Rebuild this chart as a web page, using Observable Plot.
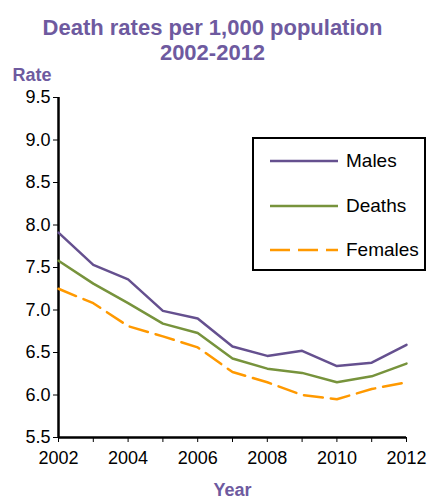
<!DOCTYPE html>
<html>
<head>
<meta charset="utf-8">
<script src="https://cdn.jsdelivr.net/npm/d3@7"></script>
<script src="https://cdn.jsdelivr.net/npm/@observablehq/plot@0.6"></script>
<style>
  body { margin: 0; background: #fff; font-family: "Liberation Sans", Arial, sans-serif; }
  #wrap { position: relative; width: 430px; height: 500px; }
  #legend { position: absolute; left: 252px; top: 137px; width: 170px; height: 130px; border: 2px solid #000; background: #fff; }
  .row { position: absolute; left: 0; height: 22px; display: flex; align-items: center; font-size: 19px; color: #000; }
  .row svg { margin-left: 16px; margin-right: 8px; }
</style>
</head>
<body>
<div id="wrap"></div>
<script>
const years = [2002, 2003, 2004, 2005, 2006, 2007, 2008, 2009, 2010, 2011, 2012];
const males = [7.91, 7.53, 7.36, 6.99, 6.90, 6.57, 6.46, 6.52, 6.34, 6.38, 6.59];
const deaths = [7.58, 7.31, 7.08, 6.84, 6.73, 6.43, 6.31, 6.26, 6.15, 6.22, 6.37];
const females = [7.25, 7.08, 6.81, 6.69, 6.56, 6.27, 6.15, 6.00, 5.95, 6.07, 6.15];
const yTicks = [5.5, 6.0, 6.5, 7.0, 7.5, 8.0, 8.5, 9.0, 9.5];
const xLabelTicks = [2002, 2004, 2006, 2008, 2010, 2012];
const seriesNames = ["Males", "Deaths", "Females"];
const seriesColors = ["#65508F", "#77933C", "#FF9900"];
const titleLines = ["Death rates per 1,000 population", "2002-2012"];
const purple = "#6E5A9F";

const rows = (vals, name) => years.map((y, i) => ({year: y, value: vals[i], series: name}));
const data = [...rows(males, "Males"), ...rows(deaths, "Deaths"), ...rows(females, "Females")];

const chart = Plot.plot({
  width: 430,
  height: 500,
  marginLeft: 58,
  marginRight: 24,
  marginTop: 97,
  marginBottom: 63,
  style: {fontFamily: "'Liberation Sans', Arial, sans-serif", fontSize: "18px", background: "#fff", color: "#000", overflow: "visible"},
  x: {domain: [2002, 2012]},
  y: {domain: [5.5, 9.5]},
  marks: [
    Plot.axisY({ticks: yTicks, tickFormat: d3.format(".1f"), tickSize: 5, tickPadding: 3, label: null, fontSize: 18}),
    Plot.axisX({ticks: years, tickFormat: () => "", tickSize: 5, label: null}),
    Plot.axisX({ticks: xLabelTicks, tickFormat: d => String(d), tickSize: 0, tickPadding: 14, label: null, fontSize: 18}),
    Plot.ruleX([2002], {stroke: "#000", strokeWidth: 2.5}),
    Plot.ruleY([5.5], {stroke: "#000", strokeWidth: 2.5}),
    Plot.line(data.filter(d => d.series === "Males"), {x: "year", y: "value", stroke: seriesColors[0], strokeWidth: 2.5}),
    Plot.line(data.filter(d => d.series === "Deaths"), {x: "year", y: "value", stroke: seriesColors[1], strokeWidth: 2.5}),
    Plot.line(data.filter(d => d.series === "Females"), {x: "year", y: "value", stroke: seriesColors[2], strokeWidth: 2.5, strokeDasharray: "19,8"}),
    Plot.text([titleLines[0]], {frameAnchor: "top", lineAnchor: "middle", text: d => d, dx: -20, dy: -70, fontSize: 22, fontWeight: "bold", fill: purple}),
    Plot.text([titleLines[1]], {frameAnchor: "top", lineAnchor: "middle", text: d => d, dx: -20, dy: -45, fontSize: 22, fontWeight: "bold", fill: purple}),
    Plot.text(["Rate"], {frameAnchor: "top-left", lineAnchor: "middle", text: d => d, dx: -46, dy: -22, textAnchor: "start", fontSize: 18, fontWeight: "bold", fill: purple}),
    Plot.text(["Year"], {frameAnchor: "bottom", lineAnchor: "middle", text: d => d, dy: 53, fontSize: 18, fontWeight: "bold", fill: purple})
  ]
});

const wrap = document.getElementById("wrap");
wrap.appendChild(chart);

const legend = document.createElement("div");
legend.id = "legend";
const tops = [11, 56, 100];
seriesNames.forEach((name, i) => {
  const row = document.createElement("div");
  row.className = "row";
  row.style.top = tops[i] + "px";
  const dash = i === 2 ? ' stroke-dasharray="20,8"' : "";
  row.innerHTML = `<svg width="68" height="4"><line x1="0" y1="2" x2="68" y2="2" stroke="${seriesColors[i]}" stroke-width="2.5"${dash}/></svg><span>${name}</span>`;
  legend.appendChild(row);
});
wrap.appendChild(legend);
</script>
</body>
</html>
